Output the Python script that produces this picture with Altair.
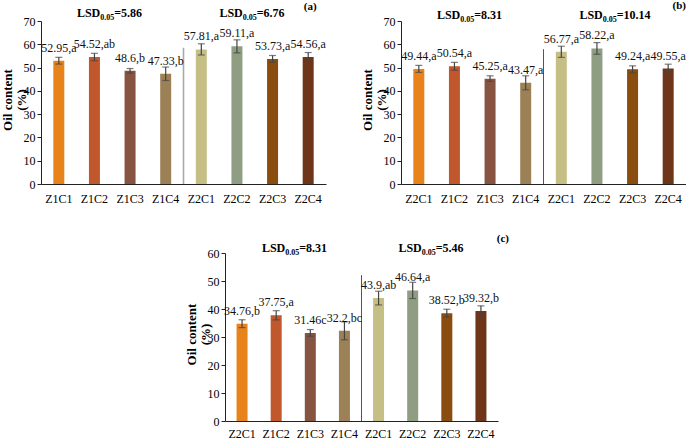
import altair as alt
import pandas as pd

FONT = "Liberation Serif"

# ---- data ----
xlabels_a = ["Z1C1", "Z1C2", "Z1C3", "Z1C4", "Z2C1", "Z2C2", "Z2C3", "Z2C4"]
xlabels_b = ["Z2C1", "Z1C2", "Z1C3", "Z1C4", "Z2C1", "Z2C2", "Z2C3", "Z2C4"]
xlabels_c = ["Z2C1", "Z1C2", "Z1C3", "Z1C4", "Z2C1", "Z2C2", "Z2C3", "Z2C4"]

values_a = [52.95, 54.52, 48.6, 47.33, 57.81, 59.11, 53.73, 54.56]
errors_a = [1.45, 1.6, 1.0, 2.9, 2.4, 2.8, 1.45, 1.9]
texts_a = ["52.95,a", "54.52,ab", "48.6,b", "47.33,b", "57.81,a", "59.11,a", "53.73,a", "54.56,a"]

values_b = [49.44, 50.54, 45.25, 43.47, 56.77, 58.22, 49.24, 49.55]
errors_b = [1.5, 1.7, 1.2, 3.0, 2.4, 2.5, 1.5, 1.9]
texts_b = ["49.44,a", "50.54,a", "45.25,a", "43.47,a", "56.77,a", "58.22,a", "49.24,a", "49.55,a"]

values_c = [34.76, 37.75, 31.46, 32.2, 43.9, 46.64, 38.52, 39.32]
errors_c = [1.4, 1.65, 1.2, 3.2, 2.45, 2.9, 1.4, 1.8]
texts_c = ["34.76,b", "37.75,a", "31.46c", "32.2,bc", "43.9,ab", "46.64,a", "38.52,b", "39.32,b"]

lsd_a = ["=5.86", "=6.76"]
lsd_b = ["=8.31", "=10.14"]
lsd_c = ["=8.31", "=5.46"]
lsd_positions = [2, 6]

panel_letters = ["(a)", "(b)", "(c)"]
separator_top = [58.5, 57.9, 52.1]
y_max = [70, 70, 60]

bar_colors = ["#E8821B", "#C0572D", "#875441", "#9C8156",
              "#C5BF85", "#8F9D83", "#8A4D0F", "#6F3519"]


def make_panel(xlabels, values, errors, texts, lsd, letter, sep_top, ymax,
               w, h, sep_color, sep_width, lsd_y, lsd_dx, letter_dx, letter_y, xlab_pad):
    df = pd.DataFrame({
        "pos": list(range(len(values))),
        "value": values,
        "lo": [v - e for v, e in zip(values, errors)],
        "hi": [v + e for v, e in zip(values, errors)],
        "text": texts,
        "color": bar_colors,
    })
    label_expr = "[" + ",".join("'" + l + "'" for l in xlabels) + "][datum.value]"
    xscale = alt.Scale(paddingInner=0, paddingOuter=0)
    x_axis = alt.X("pos:O", title=None, scale=xscale,
                   axis=alt.Axis(labelExpr=label_expr, labelAngle=0, ticks=False,
                                 labelFont=FONT, labelFontSize=12, labelColor="#000",
                                 labelPadding=xlab_pad, domainColor="#222", domainWidth=1,
                                 labelOverlap=False))
    y_axis = alt.Axis(values=list(range(0, ymax + 1, 10)),
                      tickCount=ymax // 10 + 1,
                      title=["Oil content", "(%)"], titleFont=FONT,
                      titleFontSize=13, titleFontWeight="bold",
                      titleColor="#000", titleLineHeight=14,
                      titleX=-27, titleY=h / 2 - 3,
                      labelFont=FONT, labelFontSize=12, labelColor="#000",
                      labelOverlap=False, labelFlush=False,
                      tickSize=4, labelPadding=2, grid=False,
                      domainColor="#222", tickColor="#222")
    yscale = alt.Scale(domain=[0, ymax], nice=False)
    base = alt.Chart(df)
    bars = base.mark_bar(size=11).encode(
        x=x_axis, y=alt.Y("value:Q", scale=yscale, axis=y_axis),
        color=alt.Color("color:N", scale=None))
    xs = alt.X("pos:O", scale=xscale)
    err_rule = base.mark_rule(color="#444", strokeWidth=1.2).encode(
        x=xs, y=alt.Y("lo:Q", scale=yscale), y2="hi:Q")
    cap_lo = base.mark_tick(color="#444", size=7, thickness=1.2).encode(
        x=xs, y=alt.Y("lo:Q", scale=yscale))
    cap_hi = base.mark_tick(color="#444", size=7, thickness=1.2).encode(
        x=xs, y=alt.Y("hi:Q", scale=yscale))
    labels = base.mark_text(font=FONT, fontSize=12, dy=-13, color="#111").encode(
        x=xs, y=alt.Y("value:Q", scale=yscale), text="text:N")

    sep_df = pd.DataFrame({"pos": [4], "zero": [0], "top": [sep_top]})
    sep = alt.Chart(sep_df).mark_rule(color=sep_color, strokeWidth=sep_width).encode(
        x=alt.X("pos:O", scale=xscale, bandPosition=0),
        y=alt.Y("zero:Q", scale=yscale), y2="top:Q")

    lsd_df = pd.DataFrame({"pos": lsd_positions, "lsd": lsd,
                           "head": ["LSD", "LSD"], "sub": ["0.05", "0.05"]})
    xl = alt.X("pos:O", scale=xscale, bandPosition=0)
    lsd_head = alt.Chart(lsd_df).mark_text(
        font=FONT, fontSize=12, fontWeight="bold", align="right", baseline="alphabetic",
        dx=lsd_dx, color="#000").encode(x=xl, y=alt.value(lsd_y), text="head:N")
    lsd_sub = alt.Chart(lsd_df).mark_text(
        font=FONT, fontSize=8, fontWeight="bold", align="left", baseline="alphabetic",
        dx=lsd_dx, color="#000").encode(x=xl, y=alt.value(lsd_y + 3), text="sub:N")
    lsd_val = alt.Chart(lsd_df).mark_text(
        font=FONT, fontSize=12, fontWeight="bold", align="left", baseline="alphabetic",
        dx=lsd_dx + 14, color="#000").encode(x=xl, y=alt.value(lsd_y), text="lsd:N")

    let_df = pd.DataFrame({"pos": [7], "t": [letter]})
    let = alt.Chart(let_df).mark_text(
        font=FONT, fontSize=11, fontWeight="bold", dx=letter_dx, color="#000").encode(
        x=alt.X("pos:O", scale=xscale), y=alt.value(letter_y), text="t:N")

    return alt.layer(bars, sep, err_rule, cap_lo, cap_hi, labels,
                     lsd_head, lsd_sub, lsd_val, let).properties(width=w, height=h)


pa = make_panel(xlabels_a, values_a, errors_a, texts_a, lsd_a, panel_letters[0],
                separator_top[0], y_max[0], 285, 163, "#aaaaaa", 1.6, -4, -12, 2, -14, 9)
pb = make_panel(xlabels_b, values_b, errors_b, texts_b, lsd_b, panel_letters[1],
                separator_top[1], y_max[1], 285, 163, "#555555", 1, -2, -12, 11, -15, 9)
pc = make_panel(xlabels_c, values_c, errors_c, texts_c, lsd_c, panel_letters[2],
                separator_top[2], y_max[2], 273, 168, "#555555", 1, -1, -8, 22, -14, 7)

spacer = alt.Chart(pd.DataFrame({"pos": [0]})).mark_point(opacity=0).encode(
    x=alt.value(0), y=alt.value(0)).properties(width=144, height=168)

top = alt.hconcat(pa, pb, spacing=35)
bottom = alt.hconcat(spacer, pc, spacing=0)
chart = alt.vconcat(top, bottom, spacing=29).configure_view(
    stroke=None).configure_axis(labelOverlap=False).properties(
    padding={"left": 1, "top": 0, "right": 0, "bottom": 0}, background="white")

chart.save("out.html", embed_options={"renderer": "svg", "actions": False})
